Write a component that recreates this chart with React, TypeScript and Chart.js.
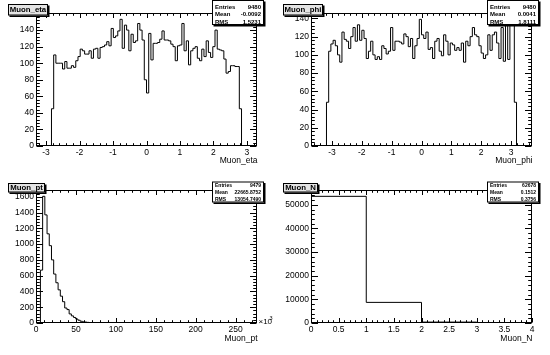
import React, { useEffect, useRef } from "react";
import { Chart, registerables } from "chart.js";

Chart.register(...registerables);

// ---------- data ----------
const statLabels = ["Entries", "Mean", "RMS"];

const etaRange = [-3.3, 3.3];
const etaCounts = [
  0, 0, 0, 0, 0, 0, 0, 45, 110, 100,
  100, 100, 93, 102, 94, 94, 97, 95, 103, 108,
  117, 115, 111, 111, 115, 106, 117, 118, 106, 119,
  120, 122, 126, 121, 142, 131, 133, 139, 153, 118,
  146, 140, 115, 135, 125, 127, 148, 140, 128, 80,
  64, 136, 104, 124, 124, 125, 129, 139, 128, 128,
  127, 123, 120, 103, 121, 122, 148, 115, 127, 98,
  115, 118, 120, 106, 103, 117, 108, 127, 113, 107,
  120, 140, 117, 116, 115, 105, 88, 90, 97, 97,
  96, 96, 45, 0, 0, 0, 0, 0, 0, 0,
];
const etaStats = ["9480", "-0.0092", "1.5231"];

const phiRange = [-3.7, 3.7];
const phiCounts = [
  0, 0, 0, 0, 0, 0, 0, 48, 104, 112,
  116, 110, 100, 92, 125, 117, 115, 107, 120, 130,
  115, 133, 116, 127, 118, 96, 104, 115, 100, 95,
  98, 95, 110, 107, 101, 104, 130, 105, 115, 115,
  114, 112, 123, 120, 109, 118, 96, 110, 118, 139,
  122, 118, 125, 106, 108, 96, 115, 118, 104, 99,
  122, 115, 100, 113, 111, 105, 108, 105, 113, 92,
  115, 110, 120, 130, 122, 120, 110, 102, 96, 100,
  122, 105, 122, 125, 113, 96, 130, 93, 137, 95,
  139, 136, 48, 0, 0, 0, 0, 0, 0, 0,
];
const phiStats = ["9480", "0.0041", "1.8111"];

const ptRange = [0, 276.8];
const ptCounts = [
  0, 0, 670, 1605, 1370, 1130, 980, 800, 620, 510,
  420, 340, 270, 190, 170, 115, 90, 70, 50, 35,
  22, 15, 12, 8, 6, 5, 4, 3, 2, 2,
  1, 1, 1, 0, 1, 0, 0, 0, 0, 0,
  0, 0, 0, 0, 0, 0, 0, 0, 0, 0,
  0, 0, 0, 0, 0, 0, 0, 0, 0, 0,
  0, 0, 0, 0, 0, 0, 0, 0, 0, 0,
  0, 0, 0, 0, 0, 0, 0, 0, 0, 0,
  0, 0, 0, 0, 0, 0, 0, 0, 0, 0,
  0, 0, 0, 0, 0, 0, 0, 0, 0, 0,
];
const ptStats = ["9479", "22665.8752", "13054.7490"];

const nRange = [0, 4];
const nCounts = [53578, 8720, 380, 0];
const nStats = ["62678", "0.1512", "0.3756"];

// ---------- panels ----------
type Panel = {
  name: string;
  range: number[];
  counts: number[];
  stats: string[];
  xStep: number;
  xMinor: number;
  yStep: number;
  yMinor: number;
  exp?: boolean;
  bottom: boolean;
};

const panels: Panel[] = [
  { name: "Muon_eta", range: etaRange, counts: etaCounts, stats: etaStats, xStep: 1, xMinor: 0.2, yStep: 20, yMinor: 4, bottom: false },
  { name: "Muon_phi", range: phiRange, counts: phiCounts, stats: phiStats, xStep: 1, xMinor: 0.2, yStep: 20, yMinor: 4, bottom: false },
  { name: "Muon_pt", range: ptRange, counts: ptCounts, stats: ptStats, xStep: 50, xMinor: 10, yStep: 200, yMinor: 40, exp: true, bottom: true },
  { name: "Muon_N", range: nRange, counts: nCounts, stats: nStats, xStep: 0.5, xMinor: 0.1, yStep: 10000, yMinor: 2000, bottom: true },
];

const FONT = "'Liberation Sans', Arial, Helvetica, sans-serif";
const PAD_W = 275;

function stepTicks(lo: number, hi: number, step: number) {
  const out: { value: number }[] = [];
  const start = Math.ceil(lo / step - 1e-9);
  for (let k = start; k * step <= hi + 1e-9; k++) {
    out.push({ value: Math.round(k * step * 1e6) / 1e6 });
  }
  return out;
}

const rootPlugin = {
  id: "rootStyle",
  afterDatasetsDraw(chart: any, _args: any, opts: any) {
    const p: Panel = opts.panel;
    const ctx: CanvasRenderingContext2D = chart.ctx;
    const a = chart.chartArea;
    const xs = chart.scales.x;
    const ys = chart.scales.y;
    const L = Math.floor(a.left) + 0.5;
    const R = Math.floor(a.right) - 0.5;
    const T = Math.floor(a.top) + 0.5;
    const B = Math.floor(a.bottom) - 0.5;
    ctx.save();
    ctx.strokeStyle = "#000";
    ctx.lineWidth = 1;
    ctx.strokeRect(L, T, R - L, B - T);
    const xMaj = 4.5, xMin = 2.3, yMaj = 6.5, yMin = 3.3;
    ctx.beginPath();
    for (const t of stepTicks(p.range[0], p.range[1], p.xMinor)) {
      const v = t.value;
      const isMaj = Math.abs(v / p.xStep - Math.round(v / p.xStep)) < 1e-6;
      const len = isMaj ? xMaj : xMin;
      const px = Math.round(xs.getPixelForValue(v)) + 0.5;
      ctx.moveTo(px, B); ctx.lineTo(px, B - len);
      ctx.moveTo(px, T); ctx.lineTo(px, T + len);
    }
    for (const t of stepTicks(0, ys.max, p.yMinor)) {
      const v = t.value;
      const isMaj = Math.abs(v / p.yStep - Math.round(v / p.yStep)) < 1e-6;
      const len = isMaj ? yMaj : yMin;
      const py = Math.round(ys.getPixelForValue(v)) + 0.5;
      ctx.moveTo(L, py); ctx.lineTo(L + len, py);
      ctx.moveTo(R, py); ctx.lineTo(R - len, py);
    }
    ctx.stroke();

    // x axis title
    ctx.fillStyle = "#000";
    ctx.font = `8.5px ${FONT}`;
    ctx.textAlign = "right";
    ctx.textBaseline = "middle";
    ctx.fillText(p.name, R + 1, p.bottom ? 162 : 160.5);

    if (p.exp) {
      ctx.textAlign = "left";
      ctx.font = `8px ${FONT}`;
      ctx.fillText("\u00d710", R + 2, B - 1);
      ctx.font = `5.5px ${FONT}`;
      ctx.fillText("3", R + 13, B - 4);
    }

    // title box
    const tb = p.bottom ? { x: 8, y: 6, w: p.name === "Muon_N" ? 35 : 37, h: 9.5 } : { x: 8, y: 4, w: 40, h: 11.5 };
    ctx.fillStyle = "#000";
    ctx.fillRect(tb.x + 1.5, tb.y + 1.5, tb.w, tb.h);
    ctx.fillStyle = "#e4e4e4";
    ctx.fillRect(tb.x, tb.y, tb.w, tb.h);
    ctx.strokeRect(tb.x + 0.5, tb.y + 0.5, tb.w - 1, tb.h - 1);
    ctx.fillStyle = "#000";
    ctx.font = `bold 7.8px ${FONT}`;
    ctx.textAlign = "center";
    ctx.textBaseline = "middle";
    ctx.fillText(p.name, tb.x + tb.w / 2, tb.y + tb.h / 2 + 0.5);

    // stats box
    const sb = p.bottom ? { x: 212, y: 4.5, w: 52, h: 21 } : { x: 212, y: 0, w: 52, h: 25 };
    ctx.fillStyle = "#000";
    ctx.fillRect(sb.x + 1.5, sb.y + 1.5, sb.w, sb.h);
    ctx.fillStyle = "#fff";
    ctx.fillRect(sb.x, sb.y, sb.w, sb.h);
    ctx.strokeRect(sb.x + 0.5, sb.y + 0.5, sb.w - 1, sb.h - 1);
    ctx.fillStyle = "#000";
    const rowY = p.bottom ? [9, 16, 22.5] : [7, 14.8, 22];
    ctx.font = p.bottom ? `bold 5px ${FONT}` : `bold 6px ${FONT}`;
    for (let i = 0; i < 3; i++) {
      ctx.textAlign = "left";
      ctx.fillText(statLabels[i], sb.x + 3, rowY[i]);
      ctx.textAlign = "right";
      ctx.fillText(p.stats[i], sb.x + sb.w - 3, rowY[i]);
    }
    ctx.restore();
  },
};

function HistPad({ panel, height }: { panel: Panel; height: number }) {
  const ref = useRef<HTMLCanvasElement | null>(null);
  useEffect(() => {
    if (!ref.current) return;
    const n = panel.counts.length;
    const [lo, hi] = panel.range;
    const w = (hi - lo) / n;
    const pts = panel.counts.map((c, i) => ({ x: lo + i * w, y: c }));
    pts.push({ x: hi, y: panel.counts[n - 1] });
    const yMax = Math.max(...panel.counts) * 1.05;
    const tickFont = { family: FONT, size: 8.5 };
    const chart = new Chart(ref.current, {
      type: "line",
      data: {
        datasets: [
          {
            data: pts,
            stepped: "before",
            borderColor: "#000",
            borderWidth: 1,
            pointRadius: 0,
            fill: false,
          },
        ],
      },
      plugins: [rootPlugin],
      options: {
        animation: false,
        responsive: false,
        maintainAspectRatio: false,
        devicePixelRatio: 1,
        events: [],
        layout: { padding: { left: 0, right: 18, top: 13, bottom: 0 } },
        plugins: {
          legend: { display: false },
          tooltip: { enabled: false },
          title: { display: false },
          rootStyle: { panel },
        } as any,
        scales: {
          x: {
            type: "linear",
            min: lo,
            max: hi,
            afterBuildTicks: (s: any) => { s.ticks = stepTicks(lo, hi, panel.xStep); },
            afterFit: (s: any) => { s.height = height - 146; },
            grid: { display: false, drawTicks: false },
            border: { display: false },
            ticks: {
              autoSkip: false,
              maxRotation: 0,
              padding: 2,
              color: "#000",
              font: tickFont,
              callback: (v: any) => String(Math.round(Number(v) * 1000) / 1000),
            },
          },
          y: {
            type: "linear",
            min: 0,
            max: yMax,
            afterBuildTicks: (s: any) => { s.ticks = stepTicks(0, yMax, panel.yStep); },
            afterFit: (s: any) => { s.width = 36; },
            grid: { display: false, drawTicks: false },
            border: { display: false },
            ticks: {
              autoSkip: false,
              padding: 2,
              color: "#000",
              font: tickFont,
              callback: (v: any) => String(v),
            },
          },
        },
      } as any,
    });
    return () => chart.destroy();
  }, [panel, height]);
  return <canvas ref={ref} width={PAD_W} height={height} style={{ display: "block", width: PAD_W, height }} />;
}

export default function App() {
  const rows = [177, 178];
  return (
    <div style={{ position: "absolute", left: 0, top: 0, width: 550, height: 355, background: "#fff" }}>
      {panels.map((p, i) => {
        const col = i % 2;
        const row = Math.floor(i / 2);
        return (
          <div
            key={p.name}
            style={{ position: "absolute", left: col * PAD_W, top: row === 0 ? 0 : rows[0], width: PAD_W, height: rows[row] }}
          >
            <HistPad panel={p} height={rows[row]} />
          </div>
        );
      })}
    </div>
  );
}
